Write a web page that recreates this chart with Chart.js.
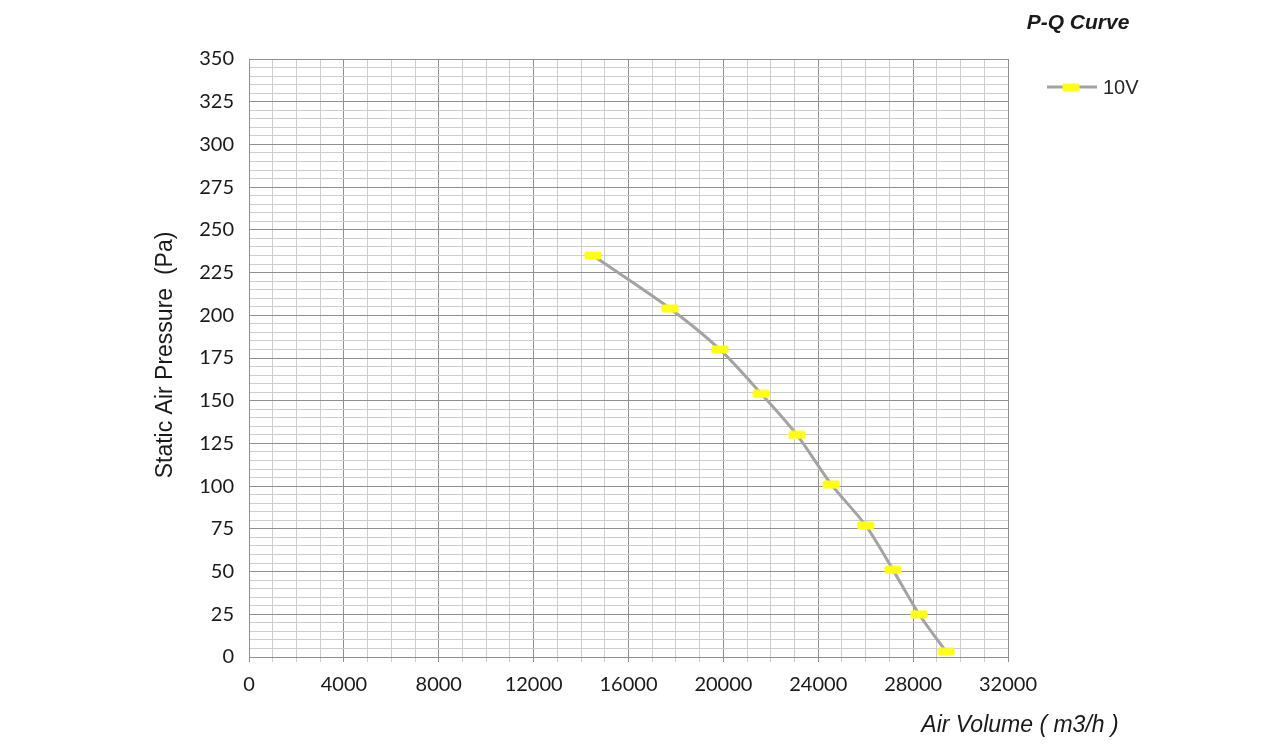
<!DOCTYPE html>
<html>
<head>
<meta charset="utf-8">
<script src="https://cdn.jsdelivr.net/npm/chart.js@4/dist/chart.umd.min.js"></script>
<style>
  html, body { margin: 0; padding: 0; background: #fff; }
  #wrap { width: 1280px; height: 752px; }
</style>
</head>
<body>
<div id="wrap"><canvas id="pq" width="1280" height="752"></canvas></div>
<script>
// P-Q curve, 10V
const airVolume = [14500, 17750, 19850, 21600, 23100, 24550, 26000, 27150, 28250, 29400];
const pressure  = [235, 204, 180, 154, 130, 101, 77, 51, 25, 3];
const seriesLabel = '10V';

const X_MAX = 32000, X_STEP = 1000, X_LABEL_EVERY = 4000;
const Y_MAX = 350,   Y_STEP = 5,    Y_LABEL_EVERY = 25;

const GRID_MAJOR = '#8f8f8f';
const GRID_MINOR = '#cdcdcd';
const LINE_GREY  = '#a3a3a3';
const YELLOW     = '#ffff14';

// yellow dash marker used for the points
function makeMarker() {
  const c = document.createElement('canvas');
  c.width = 18; c.height = 9;
  const g = c.getContext('2d');
  g.fillStyle = YELLOW;
  g.beginPath();
  g.roundRect(0.5, 0.5, 17, 8, 2);
  g.fill();
  return c;
}
const marker = makeMarker();

// titles + legend drawn as text on top
const decorations = {
  id: 'decorations',
  afterDraw(chart) {
    const ctx = chart.ctx;
    ctx.save();
    ctx.fillStyle = '#1a1a1a';

    ctx.font = 'bold italic 21px "Liberation Sans", Arial, sans-serif';
    ctx.textAlign = 'center';
    ctx.textBaseline = 'middle';
    ctx.fillText('P-Q Curve', 1078, 23);

    ctx.font = 'italic 23px "Liberation Sans", Arial, sans-serif';
    ctx.fillText('Air Volume ( m3/h )', 1020, 726);

    ctx.save();
    ctx.translate(166, 355);
    ctx.rotate(-Math.PI / 2);
    ctx.font = '23px "Liberation Sans", Arial, sans-serif';
    ctx.fillText('Static Air Pressure  (Pa)', 0, 0);
    ctx.restore();

    // legend
    ctx.strokeStyle = LINE_GREY;
    ctx.lineWidth = 3;
    ctx.beginPath();
    ctx.moveTo(1047, 87);
    ctx.lineTo(1097, 87);
    ctx.stroke();
    ctx.drawImage(marker, 1062, 83);
    ctx.fillStyle = '#262626';
    ctx.font = '20px "Liberation Sans", Arial, sans-serif';
    ctx.textAlign = 'left';
    ctx.fillText(seriesLabel, 1103, 88);
    ctx.restore();
  }
};

new Chart(document.getElementById('pq'), {
  type: 'line',
  data: {
    datasets: [{
      label: seriesLabel,
      data: airVolume.map((x, i) => ({ x, y: pressure[i] })),
      borderColor: LINE_GREY,
      borderWidth: 3,
      tension: 0.3,
      pointStyle: marker,
      pointRadius: 5,
      pointHoverRadius: 5,
      fill: false
    }]
  },
  options: {
    responsive: false,
    animation: false,
    layout: { padding: { left: 0, top: 59, right: 272, bottom: 55 } },
    plugins: {
      legend: { display: false },
      tooltip: { enabled: false }
    },
    scales: {
      x: {
        type: 'linear',
        min: 0,
        max: X_MAX,
        afterFit: s => { s.height = 40; },
        border: { color: GRID_MAJOR, width: 1 },
        grid: {
          color: c => (c.tick && c.tick.value % X_LABEL_EVERY === 0) ? GRID_MAJOR : GRID_MINOR,
          tickLength: 5
        },
        ticks: {
          stepSize: X_STEP,
          autoSkip: false,
          maxRotation: 0,
          padding: 11,
          color: '#1a1a1a',
          font: { family: 'Lato, "Open Sans", sans-serif', size: 20 },
          callback: v => v % X_LABEL_EVERY === 0 ? String(v) : ''
        }
      },
      y: {
        min: 0,
        max: Y_MAX,
        afterFit: s => { s.width = 249; },
        border: { color: GRID_MAJOR, width: 1 },
        grid: {
          color: c => (c.tick && c.tick.value % Y_LABEL_EVERY === 0) ? GRID_MAJOR : GRID_MINOR,
          drawTicks: false
        },
        ticks: {
          stepSize: Y_STEP,
          autoSkip: false,
          padding: 15,
          color: '#1a1a1a',
          font: { family: 'Lato, "Open Sans", sans-serif', size: 20 },
          callback: v => v % Y_LABEL_EVERY === 0 ? String(v) : ''
        }
      }
    }
  },
  plugins: [decorations]
});
</script>
</body>
</html>
